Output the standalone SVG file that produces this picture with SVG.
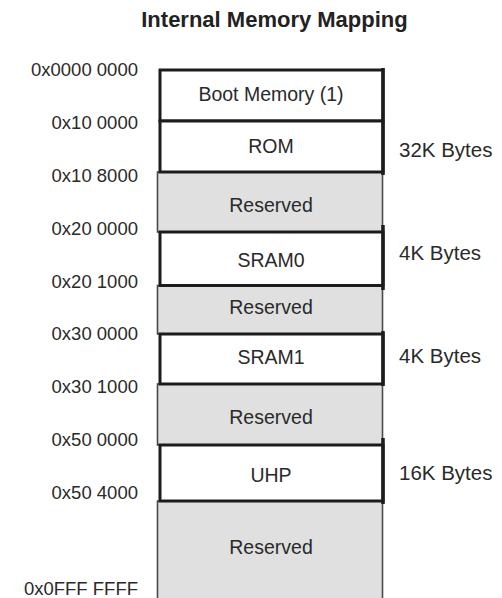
<svg xmlns="http://www.w3.org/2000/svg" width="502" height="598" viewBox="0 0 502 598">
<style>
.title{font-family:"Liberation Sans",Arial,sans-serif;font-size:22px;font-weight:bold;fill:#222;text-anchor:middle}
.addr{font-family:"Liberation Sans",Arial,sans-serif;font-size:18.5px;fill:#2a2a2a;text-anchor:end}
.lbl{font-family:"Liberation Sans",Arial,sans-serif;font-size:19.5px;fill:#2a2a2a;text-anchor:middle}
.size{font-family:"Liberation Sans",Arial,sans-serif;font-size:20.5px;fill:#2a2a2a}
.res{fill:#e0e0e0;stroke:#4a4a4a;stroke-width:1.6}
.mem{fill:#ffffff;stroke:#1c1c1c;stroke-width:3}
.ext{stroke:#1c1c1c;stroke-width:3.5;fill:none}
</style>
<rect width="502" height="598" fill="#ffffff"/>
<text class="title" x="274.5" y="26.7">Internal Memory Mapping</text>

<g id="addresses">
<text class="addr" x="138" y="76">0x0000 0000</text>
<text class="addr" x="138" y="128.5">0x10 0000</text>
<text class="addr" x="138" y="181.5">0x10 8000</text>
<text class="addr" x="138" y="235">0x20 0000</text>
<text class="addr" x="138" y="287.5">0x20 1000</text>
<text class="addr" x="138" y="340">0x30 0000</text>
<text class="addr" x="138" y="392.5">0x30 1000</text>
<text class="addr" x="138" y="445.5">0x50 0000</text>
<text class="addr" x="138" y="498.5">0x50 4000</text>
<text class="addr" x="138" y="595">0x0FFF FFFF</text>
</g>

<g id="reserved1">
<rect class="res" x="157.5" y="172" width="225" height="60"/>
<text class="lbl" x="271" y="212.3">Reserved</text>
</g>
<g id="reserved2">
<rect class="res" x="157.5" y="285.5" width="225" height="48.5"/>
<text class="lbl" x="271" y="314.3">Reserved</text>
</g>
<g id="reserved3">
<rect class="res" x="157.5" y="384" width="225" height="61"/>
<text class="lbl" x="271" y="424">Reserved</text>
</g>
<g id="reserved4">
<rect class="res" x="157.5" y="501" width="225" height="110"/>
<text class="lbl" x="271" y="554">Reserved</text>
</g>

<g id="boot">
<rect class="mem" x="160" y="70" width="223" height="51"/>
<text class="lbl" x="271" y="100.7">Boot Memory (1)</text>
</g>
<g id="rom">
<rect class="mem" x="160" y="121" width="223" height="51"/>
<line class="ext" x1="383" y1="68" x2="383" y2="175"/>
<text class="lbl" x="271" y="153.3">ROM</text>
<text class="size" x="399" y="157">32K Bytes</text>
</g>
<g id="sram0">
<rect class="mem" x="160" y="232" width="223" height="53.5"/>
<line class="ext" x1="383" y1="225" x2="383" y2="290"/>
<text class="lbl" x="271" y="266.7">SRAM0</text>
<text class="size" x="399" y="260">4K Bytes</text>
</g>
<g id="sram1">
<rect class="mem" x="160" y="334" width="223" height="50"/>
<line class="ext" x1="383" y1="331" x2="383" y2="386"/>
<text class="lbl" x="271" y="364.3">SRAM1</text>
<text class="size" x="399" y="363.3">4K Bytes</text>
</g>
<g id="uhp">
<rect class="mem" x="160" y="445" width="223" height="56"/>
<line class="ext" x1="383" y1="438" x2="383" y2="504"/>
<text class="lbl" x="271" y="481.5">UHP</text>
<text class="size" x="399" y="480">16K Bytes</text>
</g>
</svg>
